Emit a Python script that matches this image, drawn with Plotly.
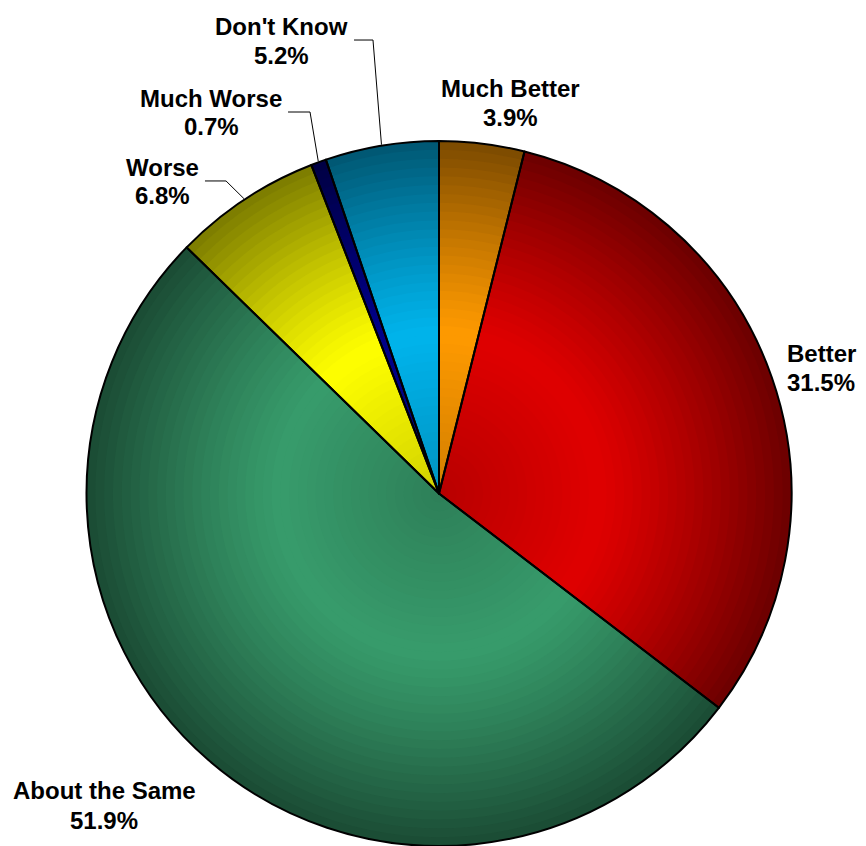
import math
import plotly.graph_objects as go

# ---- data ----
categories = ["Much Better", "Better", "About the Same", "Worse", "Much Worse", "Don't Know"]
values = [3.9, 31.5, 51.9, 6.8, 0.7, 5.2]
pct_labels = ["3.9%", "31.5%", "51.9%", "6.8%", "0.7%", "5.2%"]

# ---- style ----
base_colors = ["#ff9a00", "#e00000", "#389c6c", "#ffff00", "#00008a", "#00b4ec"]
W, H = 866, 846
CX, CY, R = 439, 493.5, 352.5
FONT = "Liberation Sans, Arial, sans-serif"


def shade(hexcol, f):
    h = hexcol.lstrip("#")
    r, g, b = (int(h[i:i + 2], 16) for i in (0, 2, 4))
    return "rgb(%d,%d,%d)" % (min(255, r * f), min(255, g * f), min(255, b * f))


def bright(rf):
    if rf >= 0.45:
        t = (rf - 0.45) / 0.55
        return 1.0 - 0.52 * t ** 1.2
    return 0.82 + 0.18 * (rf / 0.45)


def dom(rf):
    rr = R * rf
    return dict(x=[(CX - rr) / W, (CX + rr) / W],
                y=[max(0, 1 - (CY + rr) / H), min(1, 1 - (CY - rr) / H)])


fig = go.Figure()
N = 40
for k in range(N):
    rf = 1 - k / N
    fmid = bright(rf - 0.5 / N)
    fig.add_trace(go.Pie(
        labels=categories, values=values, sort=False, direction="clockwise",
        rotation=0, domain=dom(rf), textinfo="none", hoverinfo="skip",
        showlegend=False,
        marker=dict(colors=[shade(c, fmid) for c in base_colors], line=dict(width=0)),
    ))
# outline layer
fig.add_trace(go.Pie(
    labels=categories, values=values, sort=False, direction="clockwise",
    rotation=0, domain=dom(1.0), textinfo="none", hoverinfo="label+percent",
    showlegend=False,
    marker=dict(colors=["rgba(0,0,0,0)"] * 6, line=dict(color="black", width=2)),
))

# ---- labels (pixel positions of label centers) ----
label_pos = {
    "Much Better": (510, 88, 117),
    "Better": (821, 353, 383),
    "About the Same": (104, 790, 820),
    "Worse": (162, 167, 195),
    "Much Worse": (211, 98, 127),
    "Don't Know": (281, 26, 55),
}
annotations = []
for name, pct in zip(categories, pct_labels):
    x, y1, y2 = label_pos[name]
    for txt, yy in ((name, y1), (pct, y2)):
        annotations.append(dict(
            x=x / W, y=1 - yy / H, xref="paper", yref="paper", text=txt,
            showarrow=False, xanchor="center", yanchor="middle",
            font=dict(family=FONT, size=24, color="black", weight="bold"),
        ))

# ---- leader lines: elbow points, ending at slice mid-angle on rim ----
cum = [0]
for v in values:
    cum.append(cum[-1] + v)
total = cum[-1]
leaders = {
    "Worse": [(205, 181), (226, 181)],
    "Much Worse": [(288, 112), (310, 112)],
    "Don't Know": [(354, 40), (373, 40)],
}
shapes = []
for i, name in enumerate(categories):
    if name not in leaders:
        continue
    mid = (cum[i] + values[i] / 2) / total * 2 * math.pi
    ex = CX + (R + 1) * math.sin(mid)
    ey = CY - (R + 1) * math.cos(mid)
    pts = leaders[name] + [(ex, ey)]
    path = "M " + " L ".join("%.4f,%.4f" % (px / W, 1 - py / H) for px, py in pts)
    shapes.append(dict(type="path", path=path, xref="paper", yref="paper",
                       line=dict(color="black", width=1)))

fig.update_layout(
    width=W, height=H, margin=dict(l=0, r=0, t=0, b=0),
    paper_bgcolor="white", plot_bgcolor="white",
    annotations=annotations, shapes=shapes, showlegend=False,
)
fig.write_html("out.html", config={"displayModeBar": False},
               post_script="document.body.style.margin='0';document.body.style.overflow='hidden';")
